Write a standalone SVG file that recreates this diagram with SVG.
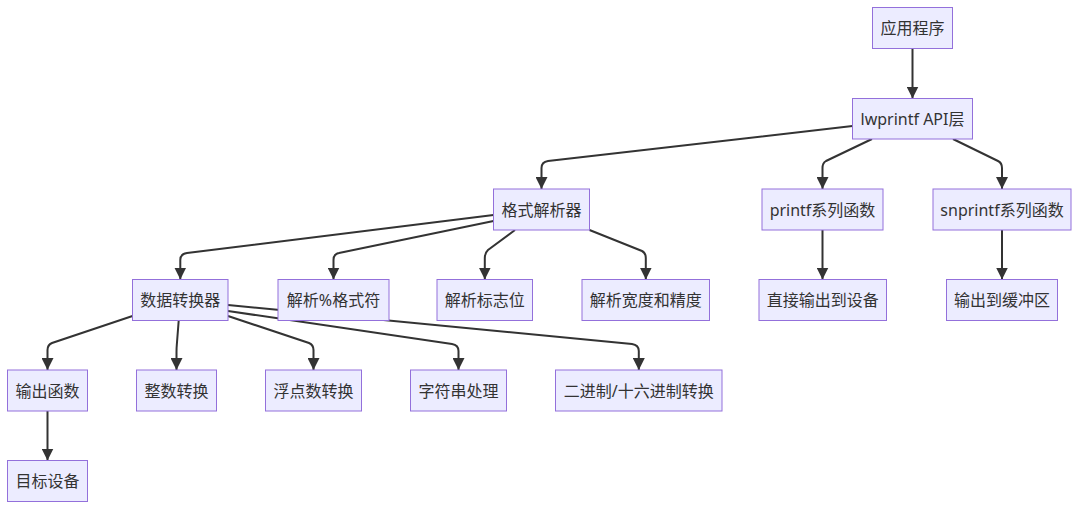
<svg xmlns="http://www.w3.org/2000/svg" width="1079" height="510" viewBox="0 0 1079 510">
<defs>
<style>
.node rect{fill:#ECECFF;stroke:#9370DB;stroke-width:1}
.node text{font-family:"Noto Sans","Noto Sans CJK SC",sans-serif;font-size:16px;fill:#333;text-anchor:middle;dominant-baseline:central}
.edges path{fill:none;stroke:#333;stroke-width:2;marker-end:url(#arrow)}
</style>
<marker id="arrow" markerUnits="userSpaceOnUse" markerWidth="12" markerHeight="12" viewBox="0 0 12 12" refX="12" refY="6" orient="auto">
<path d="M0,0 L12,6 L0,12 z" fill="#333"/>
</marker>
</defs>
<rect width="1079" height="510" fill="#fff"/>
<g class="edges">
<path d="M912.5,48.5 L912.5,98.5"/>
<path d="M852.5,126 L548,161 Q541.5,162 541.5,168 L541.5,189"/>
<path d="M872,139 L826,161 Q822.5,163 822.5,168 L822.5,189"/>
<path d="M953,139 L998,161 Q1002,163 1002,168 L1002,189"/>
<path d="M822.5,230 L822.5,279.5"/>
<path d="M1002,230 L1002,279.5"/>
<path d="M493.5,215 L187,253 Q180.3,254 180.3,260 L180.3,279.5"/>
<path d="M493.5,221 L339,253 Q333.5,254 333.5,260 L333.5,279.5"/>
<path d="M515,230 L488,250 Q484.8,253 484.8,258 L484.8,279.5"/>
<path d="M589.5,230 L642,251 Q645.8,253 645.8,258 L645.8,279.5"/>
<path d="M132.5,316 L52,343 Q47.5,345 47.5,350 L47.5,370"/>
<path d="M178.7,320.5 L176.8,345 Q176.5,348 176.5,352 L176.5,370"/>
<path d="M228,316 L309,343 Q313.5,345 313.5,350 L313.5,370"/>
<path d="M228,311 L452,344 Q458.5,345 458.5,351 L458.5,370"/>
<path d="M228,305 L632,344 Q638.8,345 638.8,351 L638.8,370"/>
<path d="M47.5,411 L47.5,460.5"/>
</g>
<g id="n-app" class="node"><rect x="872.5" y="7.5" width="80" height="41"/><text x="912.5" y="28">应用程序</text></g>
<g id="n-api" class="node"><rect x="852.5" y="98.5" width="120" height="40.5"/><text x="912.5" y="118.8">lwprintf API层</text></g>
<g id="n-parser" class="node"><rect x="493.5" y="189" width="96" height="41"/><text x="541.5" y="209.5">格式解析器</text></g>
<g id="n-printf" class="node"><rect x="762" y="189" width="121" height="41"/><text x="822.5" y="209.5">printf系列函数</text></g>
<g id="n-snprintf" class="node"><rect x="933" y="189" width="138" height="41"/><text x="1002" y="209.5">snprintf系列函数</text></g>
<g id="n-conv" class="node"><rect x="132.5" y="279.5" width="95.5" height="41"/><text x="180.3" y="300">数据转换器</text></g>
<g id="n-fmt" class="node"><rect x="278" y="279.5" width="111" height="41"/><text x="333.5" y="300">解析%格式符</text></g>
<g id="n-flags" class="node"><rect x="437" y="279.5" width="95.5" height="41"/><text x="484.8" y="300">解析标志位</text></g>
<g id="n-width" class="node"><rect x="582" y="279.5" width="127.5" height="41"/><text x="645.8" y="300">解析宽度和精度</text></g>
<g id="n-direct" class="node"><rect x="759" y="279.5" width="127.5" height="41"/><text x="822.8" y="300">直接输出到设备</text></g>
<g id="n-buf" class="node"><rect x="946.5" y="279.5" width="111" height="41"/><text x="1002" y="300">输出到缓冲区</text></g>
<g id="n-out" class="node"><rect x="7.5" y="370" width="80" height="41"/><text x="47.5" y="390.5">输出函数</text></g>
<g id="n-int" class="node"><rect x="136.5" y="370" width="80" height="41"/><text x="176.5" y="390.5">整数转换</text></g>
<g id="n-float" class="node"><rect x="265.5" y="370" width="96" height="41"/><text x="313.5" y="390.5">浮点数转换</text></g>
<g id="n-str" class="node"><rect x="410.5" y="370" width="96" height="41"/><text x="458.5" y="390.5">字符串处理</text></g>
<g id="n-bin" class="node"><rect x="555.5" y="370" width="166.5" height="41"/><text x="638.8" y="390.5">二进制/十六进制转换</text></g>
<g id="n-dev" class="node"><rect x="7.5" y="460.5" width="80" height="41"/><text x="47.5" y="481">目标设备</text></g>
</svg>
